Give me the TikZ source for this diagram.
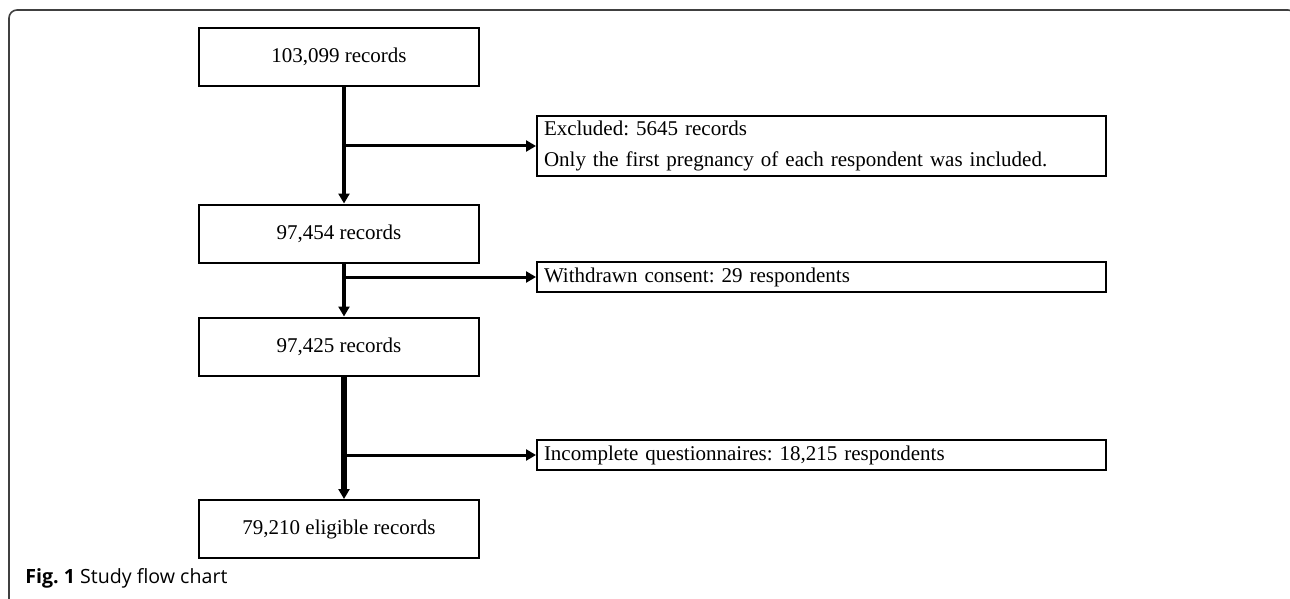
\documentclass[tikz,border=0pt]{standalone}
\usepackage{fontspec}
\setmainfont{Liberation Serif}
\newfontfamily\capfont{Open Sans}
\usetikzlibrary{arrows.meta}
\frenchspacing

\begin{document}
\begin{tikzpicture}[x=0.5pt,y=-0.5pt]
\tikzstyle{count} = [rectangle, draw=black, line width=1pt, minimum width=140pt, minimum height=29pt, inner sep=0pt, text centered, font=\fontsize{10.5}{12}\selectfont]
\tikzstyle{side} = [rectangle, draw=black, line width=1pt, anchor=west, minimum width=284.5pt, minimum height=15pt, inner xsep=3.5pt, inner ysep=0pt, text width=277.5pt, align=left, font=\fontsize{10.5}{15.5}\selectfont]
\tikzstyle{arrow} = [line width=2pt, -{Triangle[width=5.5pt,length=5pt]}]
\tikzstyle{branch} = [line width=1.5pt, -{Triangle[width=5.5pt,length=5pt]}]

    \useasboundingbox (0,0) rectangle (1290,599);
    % frame round the figure
    \draw [line width=0.8pt, black!75, rounded corners=4pt] (9,620) -- (9,10) -- (1296,10) -- (1296,620);

    \node (r1) at (339, 57) [count] {103,099 records};
    \node (r2) at (339, 233.5) [count] {97,454 records};
    \node (r3) at (339, 346.5) [count] {97,425 records};
    \node (r4) at (339, 529) [count] {79,210 eligible records};

    \node (ex) at (536, 146) [side, minimum height=30pt] {Excluded: 5645 records\\Only the first pregnancy of each respondent was included.};
    \node (wd) at (536, 277) [side] {Withdrawn consent: 29 respondents};
    \node (iq) at (536, 455) [side] {Incomplete questionnaires: 18,215 respondents};

    \coordinate (spine) at (344, 0);

    \draw [arrow] (r1.south -| spine) -- (r2.north -| spine);
    \draw [arrow] (r2.south -| spine) -- (r3.north -| spine);
    \draw [arrow, line width=2.6pt] (r3.south -| spine) -- (r4.north -| spine);

    \draw [branch] (spine |- ex.west) -- (ex.west);
    \draw [branch] (spine |- wd.west) -- (wd.west);
    \draw [branch] (spine |- iq.west) -- (iq.west);

    \node (cap) at (25, 578) [anchor=west, inner sep=0pt, font=\capfont\fontsize{9.8}{12}\selectfont] {\textbf{Fig. 1} Study flow chart};
\end{tikzpicture}
\end{document}
